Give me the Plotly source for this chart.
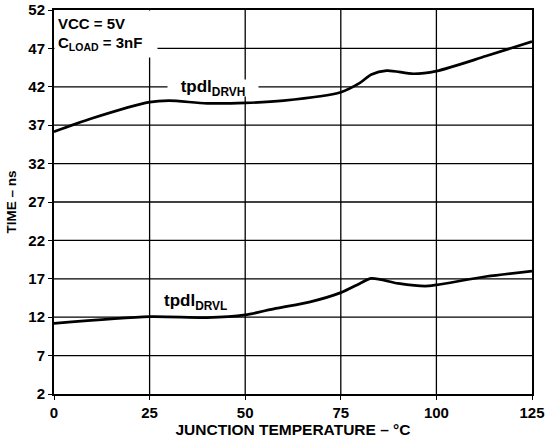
import plotly.graph_objects as go

temp_h = [0, 10, 25, 30, 40, 50, 60, 75, 80, 83, 87, 94, 100, 113, 125]
drvh = [36.15, 37.9, 40.0, 40.2, 39.85, 39.9, 40.2, 41.3, 42.5, 43.6, 44.1, 43.7, 44.05, 46.0, 47.9]

temp_l = [0, 25, 40, 50, 58, 67, 75, 80, 83, 90, 97, 100, 113, 125]
drvl = [11.2, 12.07, 11.95, 12.3, 13.15, 14.0, 15.2, 16.4, 17.05, 16.4, 16.05, 16.2, 17.3, 18.0]

x_ticks = [0, 25, 50, 75, 100, 125]
y_ticks = [2, 7, 12, 17, 22, 27, 32, 37, 42, 47, 52]

FONT = "Liberation Sans, Arial, sans-serif"
x_lo, x_hi = x_ticks[0], x_ticks[-1]
y_lo, y_hi = y_ticks[0], y_ticks[-1]

# grid lines as a line trace built from the tick values
gx, gy = [], []
for xv in x_ticks[1:-1]:
    gx += [xv, xv, None]
    gy += [y_lo, y_hi, None]
for yv in y_ticks[1:-1]:
    gx += [x_lo, x_hi, None]
    gy += [yv, yv, None]

fig = go.Figure()
fig.add_trace(go.Scatter(x=gx, y=gy, mode="lines", line=dict(color="black", width=1.3),
                         showlegend=False, hoverinfo="skip", connectgaps=False))

fig.add_trace(go.Scatter(x=temp_h, y=drvh, mode="lines",
                         line=dict(color="black", width=2.7, shape="spline", smoothing=0.8),
                         showlegend=False, hoverinfo="skip"))
fig.add_trace(go.Scatter(x=temp_l, y=drvl, mode="lines",
                         line=dict(color="black", width=2.7, shape="spline", smoothing=0.8),
                         showlegend=False, hoverinfo="skip"))

axis_common = dict(showgrid=False,
                   showline=True, linecolor="black", linewidth=2, mirror=True,
                   zeroline=False, ticks="outside", ticklen=4, tickcolor="black",
                   automargin=False, ticklabeloverflow="allow",
                   tickfont=dict(family=FONT, size=15, color="black"))

fig.update_layout(
    width=547, height=444,
    margin=dict(l=54, r=15, t=10, b=50),
    plot_bgcolor="white", paper_bgcolor="white",
    xaxis=dict(range=[x_lo, x_hi], tickvals=x_ticks, ticktext=["<b>%d</b>" % v for v in x_ticks],
               title=dict(text="<b>JUNCTION TEMPERATURE – °C</b>", standoff=3,
                          font=dict(family=FONT, size=15.5, color="black")),
               **axis_common),
    yaxis=dict(range=[y_lo, y_hi], tickvals=y_ticks, ticktext=["<b>%d</b>" % v for v in y_ticks],
               title=dict(text="<b>TIME – ns</b>", standoff=9,
                          font=dict(family=FONT, size=13.5, color="black")),
               **axis_common),
)

fig.add_annotation(xref="paper", yref="paper", x=0.0, y=1.0, xanchor="left", yanchor="top",
                   text="<b>VCC = 5V<br>C<sub>LOAD</sub> = 3nF</b>", align="left", showarrow=False,
                   bgcolor="white", borderpad=3, width=96, height=40, valign="middle",
                   font=dict(family=FONT, size=15, color="black"))
fig.add_annotation(x=41.5, y=41.9, text="<b>tpdl<sub>DRVH</sub></b>", showarrow=False,
                   bgcolor="white", borderpad=0, width=90, height=16, valign="middle",
                   font=dict(family=FONT, size=17, color="black"))
fig.add_annotation(x=36.9, y=14.0, text="<b>tpdl<sub>DRVL</sub></b>", showarrow=False,
                   font=dict(family=FONT, size=17, color="black"))

fig.write_html("out.html", config={"displayModeBar": False},
               post_script="document.body.style.margin='0px';document.body.style.overflow='hidden';")
